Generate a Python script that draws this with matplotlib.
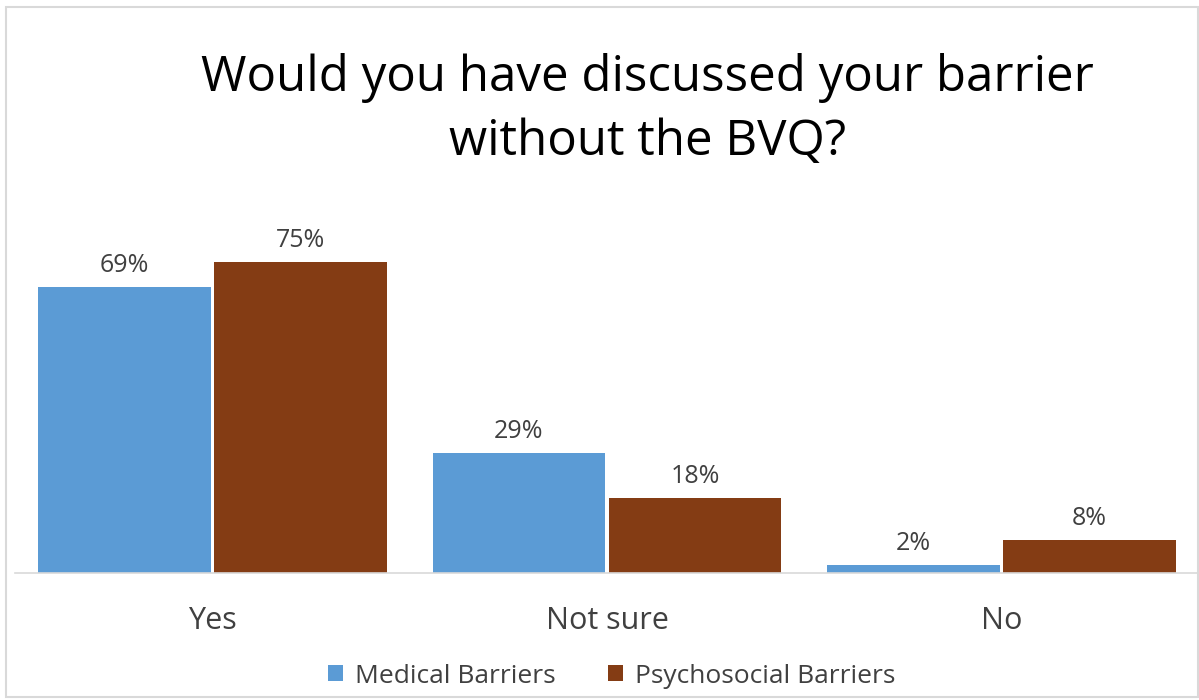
import matplotlib
matplotlib.use('Agg')
import matplotlib.pyplot as plt
import numpy as np
from matplotlib.patches import Rectangle

categories = ['Yes', 'Not sure', 'No']
series_names = ['Medical Barriers', 'Psychosocial Barriers']
medical = [69, 29, 2]
psychosocial = [75, 18, 8]
colors = ['#5B9BD5', '#843C14']

plt.rcParams['font.family'] = ['Open Sans', 'DejaVu Sans']

fig = plt.figure(figsize=(11.99, 7.0), dpi=100)
fig.patches.append(Rectangle((0.005, 0.004), 0.994, 0.986, transform=fig.transFigure,
                             fill=False, edgecolor='#d9d9d9', lw=1.5))

ax = fig.add_axes([0.0125, 0.1814, 0.9875, 0.474])
x = np.arange(len(categories))
w = 0.437
for i, (vals, name) in enumerate(zip([medical, psychosocial], series_names)):
    pos = x + (i - 0.5) * (w + 0.009)
    bars = ax.bar(pos, vals, width=w, color=colors[i], label=name)
    for b, v in zip(bars, vals):
        ax.text(b.get_x() + b.get_width() / 2, v + 2.2, f'{v}%', ha='center', va='bottom',
                fontsize=18, color='#404040')

ax.set_xlim(-0.5, len(categories) - 0.5)
ax.set_ylim(0, 80)
ax.set_yticks([])
ax.set_xticks(x, categories)
ax.tick_params(axis='x', length=0, labelsize=22, labelcolor='#404040', pad=24)
for s in ['top', 'right', 'left']:
    ax.spines[s].set_visible(False)
ax.spines['bottom'].set_color('#d9d9d9')
ax.spines['bottom'].set_linewidth(1.2)

fig.text(0.540, 0.843, 'Would you have discussed your barrier\nwithout the BVQ?', ha='center',
         va='center', fontsize=35.5, color='#000000', linespacing=1.38)

fig.legend(loc='center', bbox_to_anchor=(0.51, 0.034), ncol=2, frameon=False, fontsize=19,
           handlelength=0.57, handleheight=0.57, handletextpad=0.45, columnspacing=2.0,
           labelcolor='#404040')

fig.savefig('out.png', dpi=100)
